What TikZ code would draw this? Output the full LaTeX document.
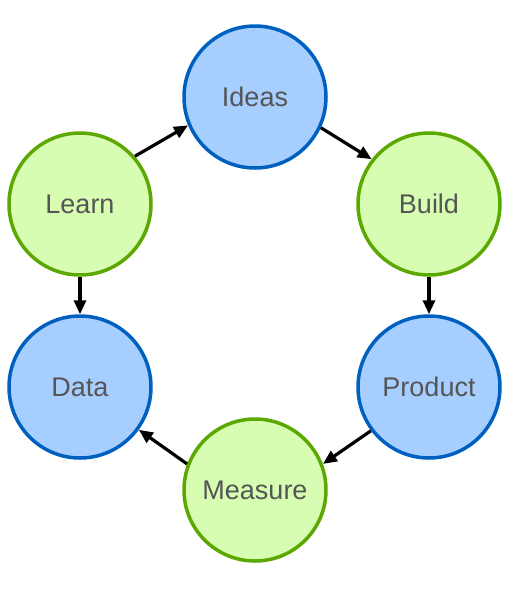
\documentclass[tikz,border=0pt]{standalone}
\usepackage{fontspec}
\setmainfont{Liberation Sans}
\usetikzlibrary{arrows.meta}
\definecolor{bluefill}{RGB}{166,206,255}
\definecolor{blueline}{RGB}{0,96,192}
\definecolor{greenfill}{RGB}{214,253,178}
\definecolor{greenline}{RGB}{90,168,0}
\definecolor{labelgray}{RGB}{85,85,85}
\begin{document}
\begin{tikzpicture}[x=1pt, y=-1pt,
   stage/.style={circle, line width=3.5pt, minimum size=142pt, inner sep=0pt,
     text=labelgray, font=\fontsize{27}{31}\selectfont},
   bluestage/.style={stage, draw=blueline, fill=bluefill},
   greenstage/.style={stage, draw=greenline, fill=greenfill},
   cyclearrow/.style={line width=3.2pt, -{Triangle[length=14pt,width=12pt]}}]
\useasboundingbox (0,0) rectangle (520,595);

\node[bluestage] (ideas) at (255,97) {Ideas};
\node[greenstage] (build) at (429,204) {Build};
\node[bluestage] (product) at (429,387) {Product};
\node[greenstage] (measure) at (255,490) {Measure};
\node[bluestage] (data) at (80,387) {Data};
\node[greenstage] (learn) at (80,204) {Learn};

\draw[cyclearrow] (ideas.-25) -- (build.142);
\draw[cyclearrow] (build.south) -- (product.north);
\draw[cyclearrow] (product.217) -- (measure.21);
\draw[cyclearrow] (measure.159) -- (data.-36);
\draw[cyclearrow] (learn.south) -- (data.north);
\draw[cyclearrow] (learn.41) -- (ideas.203);
\end{tikzpicture}
\end{document}
